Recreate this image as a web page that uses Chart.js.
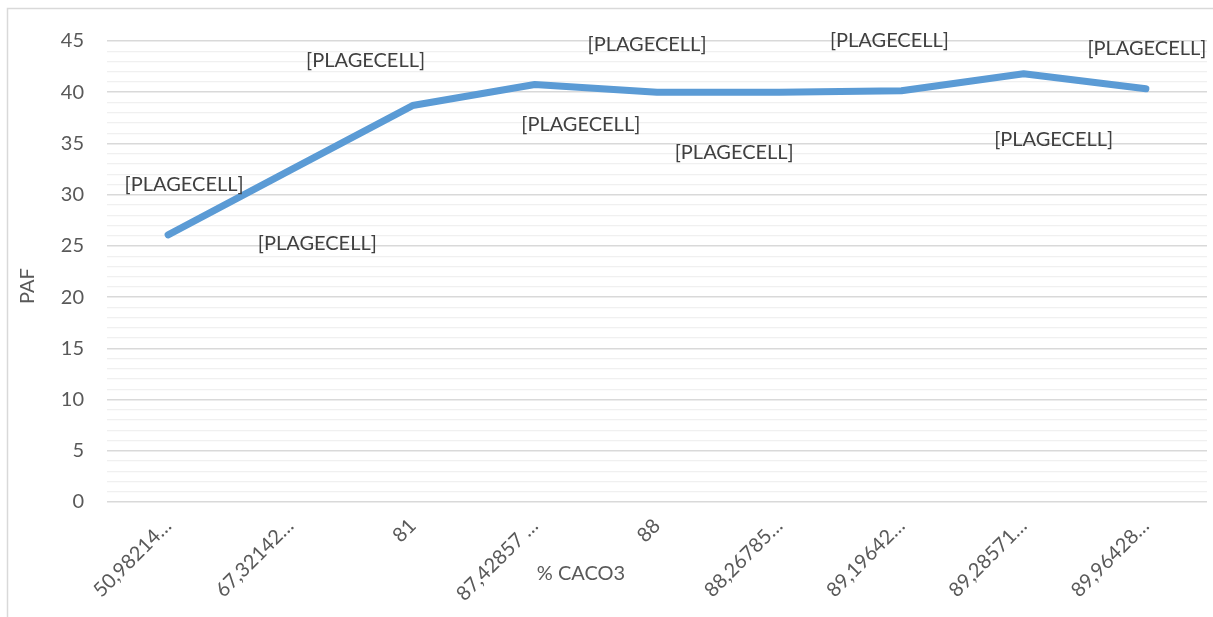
<!DOCTYPE html>
<html>
<head>
<meta charset="utf-8">
<script src="https://cdn.jsdelivr.net/npm/chart.js@4/dist/chart.umd.min.js"></script>
<style>
  html, body { margin: 0; padding: 0; background: #ffffff; }
  #wrap { width: 1213px; height: 617px; position: relative; }
</style>
</head>
<body>
<div id="wrap"><canvas id="chart" width="1213" height="617"></canvas></div>
<script>
// % CaCO3 categories (as displayed, truncated) and PAF values
const categories = ['50,98214…', '67,32142…', '81', '87,42857 …', '88', '88,26785…', '89,19642…', '89,28571…', '89,96428…'];
const pafValues = [26.07, 32.4, 38.7, 40.75, 40.0, 40.0, 40.15, 41.8, 40.33];
const pointLabels = ['[PLAGECELL]', '[PLAGECELL]', '[PLAGECELL]', '[PLAGECELL]', '[PLAGECELL]', '[PLAGECELL]', '[PLAGECELL]', '[PLAGECELL]', '[PLAGECELL]'];
const yAxisTitle = 'PAF';
const xAxisTitle = '% CACO3';

const FONT = 'Lato, "Open Sans", sans-serif';
const TEXT_COLOR = '#595959';

// Outer frame around the chart
const framePlugin = {
  id: 'frame',
  beforeDraw(chart) {
    const c = chart.ctx;
    c.save();
    c.fillStyle = '#ffffff';
    c.fillRect(0, 0, chart.width, chart.height);
    c.strokeStyle = '#d9d9d9';
    c.lineWidth = 1.5;
    c.strokeRect(7.5, 8.5, chart.width + 10, chart.height + 10);
    c.restore();
  }
};

// Value-from-cells labels beside each point
const pointLabelPlugin = {
  id: 'pointLabels',
  afterDatasetsDraw(chart, args, opts) {
    const c = chart.ctx;
    const meta = chart.getDatasetMeta(0);
    c.save();
    c.font = opts.font;
    c.fillStyle = opts.color;
    c.textAlign = 'center';
    c.textBaseline = 'middle';
    meta.data.forEach((pt, i) => {
      const off = opts.offsets[i];
      c.fillText(pointLabels[i], pt.x + off[0], pt.y + off[1]);
    });
    c.restore();
  }
};

// Axis titles
const axisTitlePlugin = {
  id: 'axisTitles',
  afterDraw(chart, args, opts) {
    const c = chart.ctx;
    c.save();
    c.font = opts.font;
    c.fillStyle = opts.color;
    c.textAlign = 'center';
    c.textBaseline = 'middle';
    c.fillText(xAxisTitle, opts.x.x, opts.x.y);
    c.translate(opts.y.x, opts.y.y);
    c.rotate(-Math.PI / 2);
    c.fillText(yAxisTitle, 0, 0);
    c.restore();
  }
};

new Chart(document.getElementById('chart'), {
  type: 'line',
  data: {
    labels: categories,
    datasets: [{
      data: pafValues,
      borderColor: '#5b9bd5',
      borderWidth: 7,
      borderCapStyle: 'round',
      borderJoinStyle: 'round',
      pointRadius: 0,
      pointHoverRadius: 0,
      tension: 0,
      fill: false
    }]
  },
  options: {
    responsive: false,
    animation: false,
    events: [],
    layout: { padding: { left: 0, top: 41, right: 6, bottom: 0 } },
    plugins: {
      legend: { display: false },
      tooltip: { enabled: false },
      pointLabels: {
        font: '20px ' + FONT,
        color: '#404040',
        offsets: [[16, -50], [27, 73], [-47, -45], [46, 40], [-10, -48], [-45, 60], [-12, -50], [30, 66], [1, -40]]
      },
      axisTitles: {
        font: '20px ' + FONT,
        color: TEXT_COLOR,
        x: { x: 581, y: 574 },
        y: { x: 28, y: 286 }
      }
    },
    scales: {
      x: {
        offset: true,
        grid: { display: false, drawTicks: false },
        border: { display: false },
        ticks: {
          autoSkip: false,
          minRotation: 45,
          maxRotation: 45,
          padding: 12,
          color: TEXT_COLOR,
          font: { family: FONT, size: 20 }
        },
        afterFit(scale) { scale.height = 115; }
      },
      y: {
        min: 0,
        max: 45,
        grid: {
          drawTicks: false,
          color: ctx => (ctx.tick && ctx.tick.value % 5 === 0) ? '#d9d9d9' : '#f0f0f0',
          lineWidth: ctx => (ctx.tick && ctx.tick.value % 5 === 0) ? 1.5 : 1.2
        },
        border: { display: false },
        ticks: {
          stepSize: 1,
          maxTicksLimit: 100,
          autoSkip: false,
          padding: 23,
          color: TEXT_COLOR,
          font: { family: FONT, size: 20 },
          callback: v => (v % 5 === 0 ? String(v) : '')
        },
        afterFit(scale) { scale.width = 107; }
      }
    }
  },
  plugins: [framePlugin, pointLabelPlugin, axisTitlePlugin]
});
</script>
</body>
</html>
